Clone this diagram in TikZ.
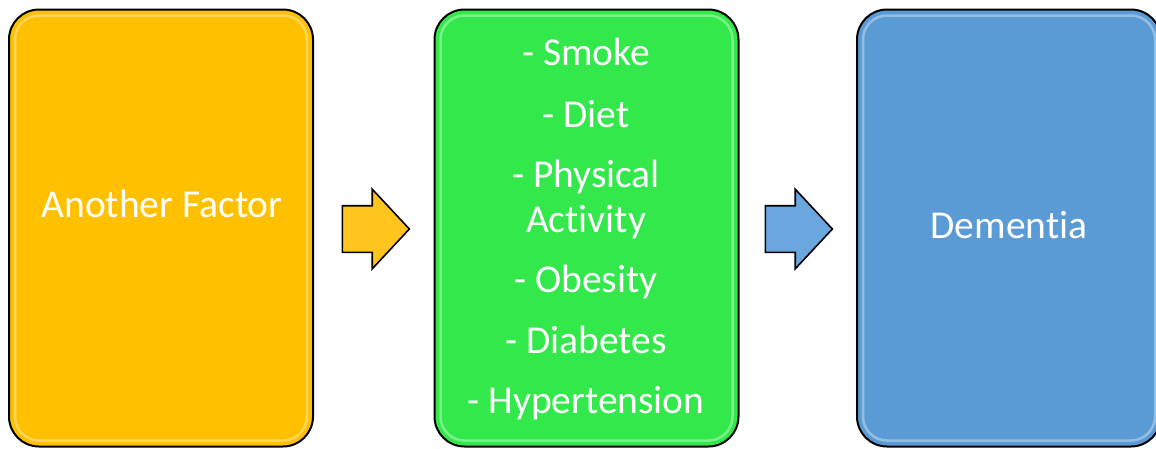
\documentclass[tikz,border=0pt]{standalone}
\usepackage{fontspec}
\setmainfont{Carlito}[Ligatures={NoCommon}]
\usetikzlibrary{shapes.arrows}
\definecolor{boxyellow}{HTML}{FFC000}
\definecolor{boxgreen}{HTML}{33E84A}
\definecolor{boxblue}{HTML}{5B9BD5}
\definecolor{arryellow}{HTML}{FFC51C}
\definecolor{arrblue}{HTML}{6AA7DE}
\begin{document}
\begin{tikzpicture}[x=1pt,y=-1pt,
  panel/.style={draw=black, line width=2pt, rounded corners=30pt, minimum width=304pt, minimum height=437pt, inner sep=0pt},
  gloss/.style={draw=white, draw opacity=0.35, line width=2.5pt, rounded corners=24pt},
  label/.style={text=white, font=\fontsize{39.5}{45}\selectfont, anchor=base, inner sep=0pt, align=center},
  blockarrow/.style={single arrow, draw=black, line width=1.6pt, minimum height=67pt, single arrow head extend=16.5pt, single arrow tip angle=94, inner xsep=0pt, inner ysep=22.5pt}
]
\useasboundingbox (0,0) rectangle (1156,448);
% panels
\node[panel, fill=boxyellow] (p1) at (161,228) {};
\node[panel, fill=boxgreen] (p2) at (586.5,228) {};
\node[panel, fill=boxblue] (p3) at (1009,228) {};
% gloss highlights
\foreach \p in {p1,p2,p3}{
  \draw[gloss] ([shift={(7pt,-7pt)}]\p.north west) rectangle ([shift={(-7pt,7pt)}]\p.south east);
}
% texts
\node[label] (t1) at (162,217) {Another Factor};
\node[label] (s1) at (586,65) {- Smoke};
\node[label] (s2) at (586,127) {- Diet};
\node[label] (s3) at (586,232) {- Physical\\Activity};
\node[label] (s4) at (586,292) {- Obesity};
\node[label] (s5) at (586,353) {- Diabetes};
\node[label] (s6) at (586,413) {- Hypertension};
\node[label] (t3) at (1009,238) {Dementia};
% arrows
\node[blockarrow, fill=arryellow] (a1) at (365,229) {};
\node[blockarrow, fill=arrblue] (a2) at (788,229) {};
\end{tikzpicture}
\end{document}
